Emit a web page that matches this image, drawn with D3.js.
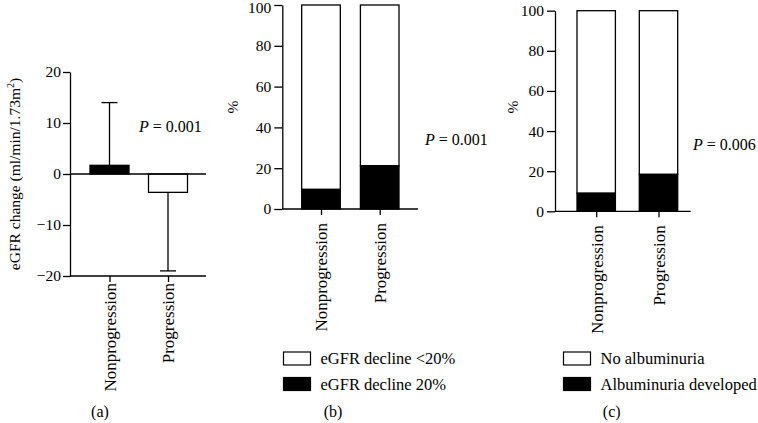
<!DOCTYPE html>
<html>
<head>
<meta charset="utf-8">
<script src="https://cdn.jsdelivr.net/npm/d3@7"></script>
<style>
  body { margin: 0; background: #fff; }
  svg text { font-family: "Liberation Serif", "DejaVu Serif", serif; fill: #000; }
  .axis path, .axis line { stroke: #000; stroke-width: 1.3px; }
  .axis text { font-size: 15.5px; }
  .axis.cat text { font-size: 17px; }
</style>
</head>
<body>
<svg id="chart" width="758" height="423"></svg>
<script>
// data
const groups = ["Nonprogression", "Progression"];
const egfrMean = [1.7, -3.6];
const egfrErrEnd = [14, -19];   // one-sided error bar ends
const egfrTicks = [-20, -10, 0, 10, 20];
const declinePct = [9.6, 21.2];
const albuminPct = [9.0, 18.4];
const pctTicks = [0, 20, 40, 60, 80, 100];
const legendB = ["eGFR decline <20%", "eGFR decline 20%"];
const legendC = ["No albuminuria", "Albuminuria developed"];

const svg = d3.select("#chart");

function xAxisLine(g, x0, x1, y) {
    g.append("line")
        .attr("x1", x0).attr("x2", x1).attr("y1", y).attr("y2", y)
        .attr("stroke", "#000").attr("stroke-width", 1.3);
}

function catLabels(g, x, y, offset) {
    g.append("g")
        .attr("class", "axis cat")
        .attr("transform", `translate(0,${y})`)
        .call(d3.axisBottom(x).tickSize(6).tickSizeOuter(0))
        .call(a => a.select(".domain").remove())
        .selectAll("text")
        .attr("text-anchor", "end")
        .attr("transform", `translate(0,${offset}) rotate(-90)`)
        .attr("x", 0).attr("y", 0).attr("dy", "0.35em");
}

//(a) eGFR change
{
    const g = svg.append("g");
    const y = d3.scaleLinear().domain([-20, 20]).range([276, 72]);
    const x = d3.scalePoint().domain(groups).range([109.5, 168]);
    const bw = 39;

    g.append("g").attr("class", "axis")
        .attr("transform", "translate(70,0)")
        .call(d3.axisLeft(y).tickValues(egfrTicks).tickSize(7).tickSizeOuter(0)
            .tickFormat(d => d < 0 ? "\u2212" + Math.abs(d) : d))
        .call(a => a.selectAll("text").attr("x", -9));

    // error bars (one-sided)
    groups.forEach((k, i) => {
        const cx = x(k);
        g.append("line").attr("x1", cx).attr("x2", cx)
            .attr("y1", y(egfrMean[i])).attr("y2", y(egfrErrEnd[i]))
            .attr("stroke", "#000").attr("stroke-width", 1.3);
        g.append("line").attr("x1", cx - 8).attr("x2", cx + 8)
            .attr("y1", y(egfrErrEnd[i])).attr("y2", y(egfrErrEnd[i]))
            .attr("stroke", "#000").attr("stroke-width", 1.3);
    });

    g.selectAll(".bar").data(groups).enter().append("rect")
        .attr("x", d => x(d) - bw / 2)
        .attr("y", (d, i) => y(Math.max(0, egfrMean[i])))
        .attr("width", bw)
        .attr("height", (d, i) => Math.abs(y(egfrMean[i]) - y(0)))
        .attr("fill", (d, i) => i === 0 ? "#000" : "#fff")
        .attr("stroke", "#000").attr("stroke-width", 1.3);

    xAxisLine(g, 70, 206, y(0));
    xAxisLine(g, 70, 206, y(-20));
    catLabels(g, x, y(-20), 7);

    const yl = g.append("text")
        .attr("transform", `translate(20,${(y(20) + y(-20)) / 2}) rotate(-90)`)
        .attr("text-anchor", "middle").attr("font-size", 15.5);
    yl.append("tspan").text("eGFR change (ml/min/1.73m");
    yl.append("tspan").text("2").attr("font-size", 10).attr("dy", -6);
    yl.append("tspan").text(")").attr("dy", 6);

    const p = g.append("text").attr("x", 139).attr("y", 132).attr("font-size", 16);
    p.append("tspan").text("P").attr("font-style", "italic");
    p.append("tspan").text(" = 0.001");

    g.append("text").attr("x", 100).attr("y", 417).attr("text-anchor", "middle")
        .attr("font-size", 16).text("(a)");
}

function pctPanel(opts) {
    const g = svg.append("g");
    const y = d3.scaleLinear().domain([0, 100]).range([opts.y0, opts.y100]);
    const x = d3.scalePoint().domain(groups).range(opts.centers);
    const bw = opts.bw;

    g.append("g").attr("class", "axis")
        .attr("transform", `translate(${opts.ax},0)`)
        .call(d3.axisLeft(y).tickValues(pctTicks).tickSize(8).tickSizeOuter(0))
        .call(a => a.selectAll("text").attr("x", -11)
            // keep the top label inside the page
            .filter(d => y(d) < 8).attr("dy", "0.5em"));

    // white (rest) part
    g.selectAll(".top").data(groups).enter().append("rect")
        .attr("x", d => x(d) - bw / 2)
        .attr("y", y(100))
        .attr("width", bw)
        .attr("height", (d, i) => y(opts.values[i]) - y(100))
        .attr("fill", "#fff").attr("stroke", "#000").attr("stroke-width", 1.3);
    // black part
    g.selectAll(".bot").data(groups).enter().append("rect")
        .attr("x", d => x(d) - bw / 2)
        .attr("y", (d, i) => y(opts.values[i]))
        .attr("width", bw)
        .attr("height", (d, i) => y(0) - y(opts.values[i]))
        .attr("fill", "#000").attr("stroke", "#000").attr("stroke-width", 1.3);

    xAxisLine(g, opts.ax, opts.axEnd, y(0));
    catLabels(g, x, y(0), 14);

    g.append("text")
        .attr("transform", `translate(${opts.pctX},107) rotate(-90)`)
        .attr("text-anchor", "middle").attr("font-size", 15.5).text("%");

    const p = g.append("text").attr("x", opts.px).attr("y", opts.py).attr("font-size", 16);
    p.append("tspan").text("P").attr("font-style", "italic");
    p.append("tspan").text(" = " + opts.p);

    opts.legend.forEach((t, i) => {
        const ly = 352 + i * 25.5;
        g.append("rect").attr("x", opts.lx).attr("y", ly).attr("width", 27).attr("height", 13)
            .attr("fill", i === 0 ? "#fff" : "#000").attr("stroke", "#000").attr("stroke-width", 1.2);
        g.append("text").attr("x", opts.lx + 37).attr("y", ly + 12).attr("font-size", 16.5).text(t);
    });

    g.append("text").attr("x", opts.labX).attr("y", 417).attr("text-anchor", "middle")
        .attr("font-size", 16).text(opts.tag);
}

//(b) eGFR decline
pctPanel({
    ax: 282.3, axEnd: 418, y0: 209, y100: 5, centers: [321, 379.7], bw: 38.6,
    values: declinePct, pctX: 238, px: 425, py: 145, p: "0.001",
    legend: legendB, lx: 283.5, labX: 333, tag: "(b)"
});

//(c) albuminuria
pctPanel({
    ax: 555, axEnd: 690.7, y0: 211.3, y100: 10.7, centers: [596.2, 658.5], bw: 38.4,
    values: albuminPct, pctX: 518, px: 693, py: 150, p: "0.006",
    legend: legendC, lx: 563.5, labX: 611.7, tag: "(c)"
});
</script>
</body>
</html>
